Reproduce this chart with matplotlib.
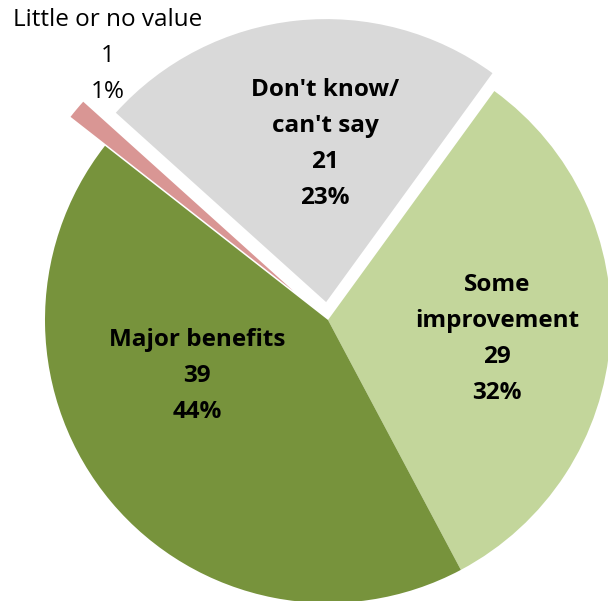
import matplotlib
matplotlib.use("Agg")
import matplotlib.pyplot as plt

# Survey responses (counts) and the percentage labels shown on each slice
categories = ["Some\nimprovement", "Major benefits", "Little or no value", "Don't know/\ncan't say"]
counts = [29, 39, 1, 21]
pct_labels = ["32%", "44%", "1%", "23%"]

colors = ["#C3D69B", "#77933C", "#D99694", "#D9D9D9"]
explode = [0, 0, 45, 18]          # offsets in pixels
label_pos = [(497, 285), (197, 340), (108, 20), (325, 90)]   # top line centre (px from top-left)
label_bold = [True, True, False, True]

W, H = 608, 601
fig = plt.figure(figsize=(W / 100, H / 100), dpi=100)
ax = fig.add_axes([0, 0, 1, 1])

R = 283
cx, cy = 328, H - 320
ax.pie(counts, colors=colors, explode=explode, radius=R, center=(cx, cy),
       startangle=54, counterclock=False, frame=True,
       wedgeprops=dict(linewidth=0))
ax.set_xlim(0, W)
ax.set_ylim(0, H)
ax.set_aspect("equal")
ax.axis("off")

line_gap = 36
for name, n, pct, (x, y), bold in zip(categories, counts, pct_labels, label_pos, label_bold):
    lines = name.split("\n") + [str(n), pct]
    for i, line in enumerate(lines):
        ax.text(x, H - (y + i * line_gap), line, ha="center", va="center",
                fontsize=17.5, family="Open Sans",
                fontweight="bold" if bold else "normal", color="black")

fig.savefig("out.png", dpi=100)
